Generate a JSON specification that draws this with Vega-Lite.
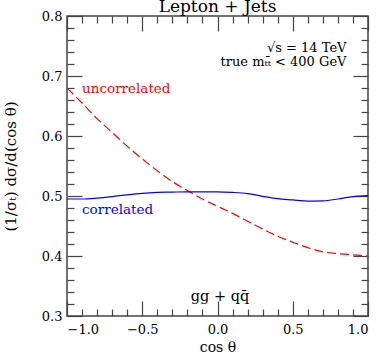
{
  "$schema": "https://vega.github.io/schema/vega-lite/v6.json",
  "width": 301,
  "height": 300,
  "autosize": {"type": "none"},
  "padding": {"left": 67, "top": 16, "right": 10, "bottom": 38},
  "background": "white",
  "config": {
    "view": {"stroke": "#444", "strokeWidth": 1.5},
    "axis": {"domain": false, "grid": false, "tickColor": "#444", "tickWidth": 1.2,
      "labelFont": "DejaVu Serif", "titleFont": "DejaVu Serif", "labelColor": "#000", "titleColor": "#000",
      "titleFontWeight": "normal", "labelFontSize": 13, "titleFontSize": 13}
  },
  "title": {"text": "Lepton + Jets", "font": "DejaVu Serif", "fontSize": 17, "fontWeight": "normal", "color": "#000", "offset": -6},
  "datasets": {
    "curves": [
      {"x": -1.0, "y": 0.680, "series": "uncorrelated"},
      {"x": -0.9, "y": 0.655, "series": "uncorrelated"},
      {"x": -0.8, "y": 0.629, "series": "uncorrelated"},
      {"x": -0.7, "y": 0.606, "series": "uncorrelated"},
      {"x": -0.6, "y": 0.583, "series": "uncorrelated"},
      {"x": -0.5, "y": 0.562, "series": "uncorrelated"},
      {"x": -0.4, "y": 0.542, "series": "uncorrelated"},
      {"x": -0.3, "y": 0.524, "series": "uncorrelated"},
      {"x": -0.2, "y": 0.509, "series": "uncorrelated"},
      {"x": -0.1, "y": 0.495, "series": "uncorrelated"},
      {"x": 0.0, "y": 0.483, "series": "uncorrelated"},
      {"x": 0.1, "y": 0.471, "series": "uncorrelated"},
      {"x": 0.2, "y": 0.458, "series": "uncorrelated"},
      {"x": 0.3, "y": 0.445, "series": "uncorrelated"},
      {"x": 0.4, "y": 0.433, "series": "uncorrelated"},
      {"x": 0.5, "y": 0.423, "series": "uncorrelated"},
      {"x": 0.6, "y": 0.414, "series": "uncorrelated"},
      {"x": 0.7, "y": 0.407, "series": "uncorrelated"},
      {"x": 0.8, "y": 0.404, "series": "uncorrelated"},
      {"x": 0.9, "y": 0.402, "series": "uncorrelated"},
      {"x": 1.0, "y": 0.400, "series": "uncorrelated"},
      {"x": -1.0, "y": 0.495, "series": "correlated"},
      {"x": -0.9, "y": 0.495, "series": "correlated"},
      {"x": -0.8, "y": 0.4965, "series": "correlated"},
      {"x": -0.7, "y": 0.499, "series": "correlated"},
      {"x": -0.6, "y": 0.502, "series": "correlated"},
      {"x": -0.5, "y": 0.5045, "series": "correlated"},
      {"x": -0.4, "y": 0.506, "series": "correlated"},
      {"x": -0.3, "y": 0.5065, "series": "correlated"},
      {"x": -0.2, "y": 0.507, "series": "correlated"},
      {"x": -0.1, "y": 0.507, "series": "correlated"},
      {"x": 0.0, "y": 0.507, "series": "correlated"},
      {"x": 0.1, "y": 0.506, "series": "correlated"},
      {"x": 0.2, "y": 0.504, "series": "correlated"},
      {"x": 0.3, "y": 0.4995, "series": "correlated"},
      {"x": 0.4, "y": 0.4955, "series": "correlated"},
      {"x": 0.5, "y": 0.4935, "series": "correlated"},
      {"x": 0.6, "y": 0.4915, "series": "correlated"},
      {"x": 0.7, "y": 0.492, "series": "correlated"},
      {"x": 0.8, "y": 0.495, "series": "correlated"},
      {"x": 0.9, "y": 0.499, "series": "correlated"},
      {"x": 1.0, "y": 0.5005, "series": "correlated"}
    ]
  },
  "resolve": {"axis": {"x": "independent", "y": "independent"}},
  "layer": [
    {
      "data": {"name": "curves"},
      "transform": [{"filter": "datum.series === 'uncorrelated'"}],
      "mark": {"type": "line", "color": "#ff0000", "strokeWidth": 1.2, "strokeDash": [9, 4], "interpolate": "monotone", "clip": true},
      "encoding": {
        "x": {"field": "x", "type": "quantitative", "scale": {"domain": [-1, 1], "nice": false, "zero": false},
          "axis": {"orient": "bottom", "values": [-1, -0.5, 0, 0.5, 1], "format": ".1f", "tickSize": -15, "labelPadding": 22, "title": "cos θ", "titlePadding": 4, "titleFontSize": 14}},
        "y": {"field": "y", "type": "quantitative", "scale": {"domain": [0.3, 0.8], "nice": false, "zero": false},
          "axis": {"orient": "left", "values": [0.3, 0.4, 0.5, 0.6, 0.7, 0.8], "format": ".1f", "tickSize": -15, "labelPadding": 20, "title": "(1/σₜ)  dσ/d(cos θ)", "titlePadding": 23, "titleFontSize": 15}}
      }
    },
    {
      "data": {"name": "curves"},
      "transform": [{"filter": "datum.series === 'correlated'"}],
      "mark": {"type": "line", "color": "#0000ff", "strokeWidth": 1.2, "interpolate": "monotone", "clip": true},
      "encoding": {
        "x": {"field": "x", "type": "quantitative",
          "axis": {"orient": "top", "values": [-1, -0.5, 0, 0.5, 1], "labels": false, "tickSize": -15, "title": null}},
        "y": {"field": "y", "type": "quantitative",
          "axis": {"orient": "right", "values": [0.3, 0.4, 0.5, 0.6, 0.7, 0.8], "labels": false, "tickSize": -15, "title": null}}
      }
    },
    {
      "data": {"name": "curves"},
      "mark": {"type": "line", "opacity": 0},
      "encoding": {
        "x": {"field": "x", "type": "quantitative",
          "axis": {"orient": "bottom", "values": [-0.9, -0.8, -0.7, -0.6, -0.4, -0.3, -0.2, -0.1, 0.1, 0.2, 0.3, 0.4, 0.6, 0.7, 0.8, 0.9], "labels": false, "tickSize": -7, "title": null}},
        "y": {"field": "y", "type": "quantitative",
          "axis": {"orient": "left", "values": [0.32, 0.34, 0.36, 0.38, 0.42, 0.44, 0.46, 0.48, 0.52, 0.54, 0.56, 0.58, 0.62, 0.64, 0.66, 0.68, 0.72, 0.74, 0.76, 0.78], "labels": false, "tickSize": -7, "title": null}}
      }
    },
    {
      "data": {"name": "curves"},
      "mark": {"type": "line", "opacity": 0},
      "encoding": {
        "x": {"field": "x", "type": "quantitative",
          "axis": {"orient": "top", "values": [-0.9, -0.8, -0.7, -0.6, -0.4, -0.3, -0.2, -0.1, 0.1, 0.2, 0.3, 0.4, 0.6, 0.7, 0.8, 0.9], "labels": false, "tickSize": -7, "title": null}},
        "y": {"field": "y", "type": "quantitative",
          "axis": {"orient": "right", "values": [0.32, 0.34, 0.36, 0.38, 0.42, 0.44, 0.46, 0.48, 0.52, 0.54, 0.56, 0.58, 0.62, 0.64, 0.66, 0.68, 0.72, 0.74, 0.76, 0.78], "labels": false, "tickSize": -7, "title": null}}
      }
    },
    {
      "data": {"values": [{"x": -0.9, "y": 0.671, "label": "uncorrelated"}]},
      "mark": {"type": "text", "align": "left", "baseline": "alphabetic", "font": "DejaVu Serif", "fontSize": 13.5, "color": "#ff0000"},
      "encoding": {"x": {"field": "x", "type": "quantitative", "axis": null}, "y": {"field": "y", "type": "quantitative", "axis": null}, "text": {"field": "label"}}
    },
    {
      "data": {"values": [{"x": -0.9, "y": 0.4695, "label": "correlated"}]},
      "mark": {"type": "text", "align": "left", "baseline": "alphabetic", "font": "DejaVu Serif", "fontSize": 13.5, "color": "#0000ff"},
      "encoding": {"x": {"field": "x", "type": "quantitative", "axis": null}, "y": {"field": "y", "type": "quantitative", "axis": null}, "text": {"field": "label"}}
    },
    {
      "data": {"values": [{"x": 0.857, "y": 0.7405, "label": "√s = 14 TeV"}, {"x": 0.857, "y": 0.717, "label": "true mₜₜ̄ < 400 GeV"}]},
      "mark": {"type": "text", "align": "right", "baseline": "alphabetic", "font": "DejaVu Serif", "fontSize": 13, "color": "#000"},
      "encoding": {"x": {"field": "x", "type": "quantitative", "axis": null}, "y": {"field": "y", "type": "quantitative", "axis": null}, "text": {"field": "label"}}
    },
    {
      "data": {"values": [{"x": 0.017, "y": 0.325, "label": "gg + qq̄"}]},
      "mark": {"type": "text", "align": "center", "baseline": "alphabetic", "font": "DejaVu Serif", "fontSize": 14.5, "color": "#000"},
      "encoding": {"x": {"field": "x", "type": "quantitative", "axis": null}, "y": {"field": "y", "type": "quantitative", "axis": null}, "text": {"field": "label"}}
    }
  ]
}
